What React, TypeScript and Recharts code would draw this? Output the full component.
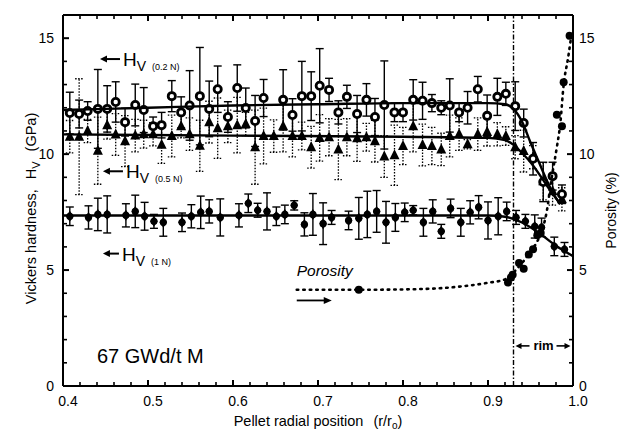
import React from 'react';
import { ComposedChart, Scatter, XAxis, YAxis, ErrorBar, ReferenceLine, ReferenceDot } from 'recharts';

// ---------- data ----------
// Hv (0.2 N) – open circles, solid error bars
const hv02X = [0.408,0.419,0.429,0.441,0.452,0.462,0.473,0.485,0.495,0.506,0.516,0.528,0.539,0.549,0.561,0.572,0.582,0.594,0.605,0.615,0.626,0.636,0.659,0.670,0.681,0.692,0.702,0.713,0.724,0.734,0.746,0.757,0.767,0.778,0.790,0.800,0.812,0.823,0.834,0.845,0.855,0.866,0.876,0.888,0.899,0.911,0.921,0.932,0.942,0.953,0.965,0.976,0.987];
const hv02Y = [11.77,11.73,11.86,11.95,11.95,12.25,11.38,12.12,11.9,11.2,11.25,12.5,11.8,12.1,12.5,11.95,12.8,11.6,12.85,11.99,11.43,12.42,12.34,11.69,12.5,12.5,12.95,12.77,11.8,12.47,11.73,12.34,11.6,12.12,11.8,11.8,12.34,12.3,12.2,12.0,12.1,11.8,12.0,12.8,11.65,12.47,12.6,12.07,11.34,9.8,8.8,9.05,8.27];
const hv02Err = [0.9,0.6,0.4,1.7,1.0,0.87,0.6,0.9,0.97,0.4,0.55,0.67,0.67,1.5,2.1,1.2,1.0,0.66,1.0,0.86,1.1,0.8,1.3,0.7,1.5,1.05,1.6,0.5,0.5,0.5,0.8,0.7,0.8,1.9,0.4,0.4,0.87,0.8,0.37,0.3,1.15,0.4,0.7,0.55,0.9,0.8,0.5,1.05,0.6,0.7,0.85,0.6,0.4];

// Hv (0.5 N) – filled triangles, dotted error bars
const hv05X = [0.408,0.419,0.429,0.441,0.452,0.462,0.473,0.485,0.495,0.506,0.516,0.528,0.539,0.549,0.561,0.572,0.582,0.594,0.605,0.615,0.626,0.636,0.648,0.659,0.670,0.681,0.692,0.702,0.713,0.724,0.734,0.746,0.757,0.767,0.778,0.790,0.800,0.812,0.823,0.834,0.845,0.855,0.866,0.876,0.888,0.899,0.911,0.921,0.932,0.942,0.953,0.965,0.976,0.987];
const hv05Y = [10.75,10.75,11.0,10.15,11.25,10.85,10.56,10.8,10.86,10.86,10.4,10.78,11.2,10.86,10.36,11.38,11.12,11.2,11.25,11.3,10.3,10.78,10.78,11.2,10.78,10.78,10.3,10.7,10.73,10.2,10.73,10.69,10.73,10.56,9.9,9.95,10.35,11.2,10.39,10.35,10.2,10.78,10.86,10.43,10.86,10.95,10.86,10.78,10.3,10.13,9.87,8.83,8.4,8.05];
const hv05Err = [0.7,2.5,0.5,1.45,0.6,0.9,1.1,0.7,0.6,0.5,0.8,0.9,0.5,0.7,1.1,0.9,1.3,0.7,1.2,0.5,1.6,1.2,0.7,1.1,0.9,0.6,0.9,1.0,0.8,1.3,0.8,1.0,0.6,0.9,0.9,1.3,0.8,1.1,0.9,0.8,0.7,0.9,0.7,0.2,0.7,0.6,0.5,0.4,0.5,0.9,0.5,0.8,0.6,0.5];

// Hv (1 N) – filled diamonds, solid error bars
const hv1X = [0.408,0.430,0.441,0.452,0.474,0.485,0.496,0.507,0.518,0.540,0.551,0.562,0.572,0.585,0.607,0.618,0.629,0.640,0.651,0.661,0.672,0.684,0.694,0.706,0.716,0.736,0.748,0.758,0.769,0.780,0.791,0.802,0.812,0.824,0.835,0.845,0.856,0.868,0.879,0.889,0.900,0.912,0.922,0.933,0.944,0.955,0.963,0.978,0.990];
const hv1Y = [7.32,7.27,7.4,7.4,7.36,7.53,7.32,7.1,7.06,7.06,7.32,7.49,7.53,7.27,7.36,7.88,7.58,7.53,7.32,7.4,7.79,6.97,7.4,7.0,7.27,7.14,7.23,7.4,7.53,7.06,7.27,7.49,7.58,7.06,7.53,6.67,7.66,7.06,7.49,7.71,7.14,7.32,7.53,7.27,7.1,6.88,6.84,6.02,5.89];
const hv1Err = [0.4,0.5,0.7,0.8,0.5,0.7,0.6,0.3,0.6,0.4,0.5,0.7,0.5,0.8,0.5,0.4,0.3,0.8,0.4,0.4,0.2,0.5,0.9,0.9,0.3,0.4,0.9,1.0,0.9,0.9,0.6,0.4,0.2,0.6,0.5,0.3,0.4,0.6,0.5,0.5,0.8,0.8,0.4,0.3,0.3,0.5,0.4,0.4,0.3];

// Porosity (%) – filled markers (right axis)
const porX = [0.748,0.9235,0.927,0.929,0.9365,0.942,0.948,0.953,0.958,0.962,0.981,0.987,0.989,0.996];
const porY = [4.15,4.46,4.68,4.8,5.3,5.06,5.67,5.9,6.5,6.6,11.7,11.2,13.1,15.1];

// fitted trend curves
const fit02X = [0.4,0.5,0.6,0.7,0.8,0.9,0.92,0.93,0.94,0.95,0.96,0.97,0.98,0.985];
const fit02Y = [11.9,12.0,12.1,12.15,12.2,12.2,12.15,11.95,11.4,10.5,9.65,8.8,8.1,7.85];
const fit05X = [0.4,0.6,0.8,0.9,0.92,0.93,0.94,0.95,0.96,0.97,0.98,0.985];
const fit05Y = [10.85,10.8,10.75,10.7,10.6,10.4,10.05,9.65,9.15,8.6,8.1,7.85];
const fit1X = [0.4,0.6,0.8,0.9,0.92,0.94,0.96,0.98,1.0];
const fit1Y = [7.35,7.35,7.35,7.35,7.3,7.05,6.6,6.05,5.6];
const fitPorX = [0.675,0.75,0.82,0.87,0.9,0.92,0.93,0.94,0.95,0.96,0.969,0.975,0.981,0.985,0.989,0.994,0.998];
const fitPorY = [4.15,4.15,4.18,4.3,4.45,4.6,4.9,5.3,5.8,6.4,7.5,9.0,10.3,11.3,13.0,14.1,15.1];

const xTicks = [0.4,0.42,0.44,0.46,0.48,0.5,0.52,0.54,0.56,0.58,0.6,0.62,0.64,0.66,0.68,0.7,0.72,0.74,0.76,0.78,0.8,0.82,0.84,0.86,0.88,0.9,0.92,0.94,0.96,0.98,1.0];
const yTicks = [0,1,2,3,4,5,6,7,8,9,10,11,12,13,14,15,16];
const rimX = 0.93;

// ---------- helpers ----------
const pts = (xs: number[], ys: number[], es?: number[]) =>
  xs.map((x, i) => ({ x, y: ys[i], e: es ? es[i] : 0 }));

const d02 = pts(hv02X, hv02Y, hv02Err);
const d05 = pts(hv05X, hv05Y, hv05Err);
const d1 = pts(hv1X, hv1Y, hv1Err);
const dPor = pts(porX, porY);
const f02 = pts(fit02X, fit02Y);
const f05 = pts(fit05X, fit05Y);
const f1 = pts(fit1X, fit1Y);
const fPor = pts(fitPorX, fitPorY);

const FONT = '"Liberation Sans", Arial, sans-serif';
const isMajorX = (v: number) => Math.abs(v * 10 - Math.round(v * 10)) < 1e-6;
const isMajorY = (v: number) => Math.round(v) % 5 === 0;

const BottomTick = (p: any) => {
  const v = p.payload.value;
  const m = isMajorX(v);
  return (
    <g>
      <line x1={p.x} x2={p.x} y1={p.y} y2={p.y - (m ? 6 : 4)} stroke="#000" strokeWidth={m ? 2 : 1.6} />
      {m && (
        <text x={p.x + 5} y={p.y + 20} textAnchor="middle" fontSize={14} fontFamily={FONT} fill="#000">
          {v.toFixed(1)}
        </text>
      )}
    </g>
  );
};
const TopTick = (p: any) => {
  const v = p.payload.value;
  const m = isMajorX(v);
  return <line x1={p.x} x2={p.x} y1={p.y} y2={p.y + (m ? 6 : 4)} stroke="#000" strokeWidth={m ? 2 : 1.6} />;
};
const LeftTick = (p: any) => {
  const v = p.payload.value;
  const m = isMajorY(v);
  return (
    <g>
      <line x1={p.x} x2={p.x + (m ? 6 : 4)} y1={p.y} y2={p.y} stroke="#000" strokeWidth={m ? 2 : 1.6} />
      {m && (
        <text x={p.x - 9} y={p.y + 5} textAnchor="end" fontSize={14} fontFamily={FONT} fill="#000">
          {v}
        </text>
      )}
    </g>
  );
};
const RightTick = (p: any) => {
  const v = p.payload.value;
  const m = isMajorY(v);
  return (
    <g>
      <line x1={p.x} x2={p.x - (m ? 6 : 4)} y1={p.y} y2={p.y} stroke="#000" strokeWidth={m ? 2 : 1.6} />
      {m && (
        <text x={p.x + 6} y={p.y + 5} textAnchor="start" fontSize={14} fontFamily={FONT} fill="#000">
          {v}
        </text>
      )}
    </g>
  );
};

// markers
const OpenCircle = (p: any) => (
  <circle cx={p.cx} cy={p.cy} r={3.6} fill="#fff" stroke="#000" strokeWidth={2.8} />
);
const Triangle = (p: any) => (
  <path d={`M${p.cx},${p.cy - 6}L${p.cx + 5},${p.cy + 4}L${p.cx - 5},${p.cy + 4}Z`} fill="#000" />
);
const Diamond = (p: any) => (
  <g>
    <circle cx={p.cx} cy={p.cy} r={3.6} fill="#000" />
    <path d={`M${p.cx},${p.cy - 5.5}L${p.cx + 3.8},${p.cy}L${p.cx},${p.cy + 5.5}L${p.cx - 3.8},${p.cy}Z`} fill="#000" />
  </g>
);
const Blob = (p: any) => <circle cx={p.cx} cy={p.cy} r={4} fill="#000" />;
const NoShape = () => <g />;

// annotations
const HvLabel = (props: any) => {
  const vb = props.viewBox || {};
  const x = vb.x, y = vb.y;
  const small = props.small;
  const len = small ? 16 : 20;
  return (
    <g fontFamily={FONT} fill="#000">
      <line x1={x + 4} x2={x + len} y1={y} y2={y} stroke="#000" strokeWidth={2} />
      <path d={`M${x},${y}L${x + 7},${y - 3.5}L${x + 7},${y + 3.5}Z`} fill="#000" />
      <text x={x + len + 3} y={y + 7} fontSize={19}>
        H
        <tspan dy={5} fontSize={14}>V</tspan>
        <tspan dx={6} dy={-1} fontSize={9}>{props.load}</tspan>
      </text>
    </g>
  );
};
const PorosityLabel = (props: any) => {
  const vb = props.viewBox || {};
  const x = vb.x, y = vb.y;
  return (
    <g fontFamily={FONT} fill="#000">
      <text x={x} y={y + 5} fontSize={15.5} fontStyle="italic">Porosity</text>
      <line x1={x} x2={x + 28} y1={y + 29} y2={y + 29} stroke="#000" strokeWidth={1.8} />
      <path d={`M${x + 35},${y + 29}L${x + 27},${y + 25.5}L${x + 27},${y + 32.5}Z`} fill="#000" />
    </g>
  );
};
const BurnupLabel = (props: any) => {
  const vb = props.viewBox || {};
  return (
    <text x={vb.x} y={vb.y} fontSize={20} fontFamily={FONT} fill="#000">67 GWd/t M</text>
  );
};
const RimLabel = (props: any) => {
  const vb = props.viewBox || {};
  const x = vb.x, y = vb.y;
  return (
    <g fontFamily={FONT} fill="#000">
      <line x1={x - 24} x2={x - 14} y1={y} y2={y} stroke="#000" strokeWidth={1.6} />
      <path d={`M${x - 28},${y}L${x - 22},${y - 3}L${x - 22},${y + 3}Z`} fill="#000" />
      <text x={x} y={y + 4} fontSize={13} fontWeight="bold" textAnchor="middle">rim</text>
      <line x1={x + 13} x2={x + 23} y1={y} y2={y} stroke="#000" strokeWidth={1.6} />
      <path d={`M${x + 27},${y}L${x + 21},${y - 3}L${x + 21},${y + 3}Z`} fill="#000" />
    </g>
  );
};
const LeftTitle = (props: any) => {
  const vb = props.viewBox || {};
  const cx = 36;
  const cy = vb.y + vb.height / 2 + 8;
  return (
    <text x={cx} y={cy} transform={`rotate(-90, ${cx}, ${cy})`} textAnchor="middle" fontSize={14.5} fontFamily={FONT} fill="#000">
      Vickers hardness,
      <tspan dx={10}>H</tspan>
      <tspan dy={4} fontSize={11}>V</tspan>
      <tspan dx={10} dy={-4}>(GPa)</tspan>
    </text>
  );
};
const RightTitle = (props: any) => {
  const vb = props.viewBox || {};
  const cx = vb.x + 43;
  const cy = vb.y + vb.height / 2 + 10;
  return (
    <text x={cx} y={cy} transform={`rotate(-90, ${cx}, ${cy})`} textAnchor="middle" fontSize={14} fontFamily={FONT} fill="#000">
      Porosity (%)
    </text>
  );
};
const BottomTitle = (props: any) => {
  const vb = props.viewBox || {};
  const cx = vb.x + vb.width / 2;
  return (
    <text x={cx} y={vb.y + 40} textAnchor="middle" fontSize={14.5} fontFamily={FONT} fill="#000">
      Pellet radial position
      <tspan dx={10}>(r/r</tspan>
      <tspan dy={3} fontSize={10}>o</tspan>
      <tspan dy={-3}>)</tspan>
    </text>
  );
};

const axisLine = { stroke: '#000', strokeWidth: 2 };

export default function App() {
  return (
    <div style={{ position: 'absolute', left: 0, top: 0, width: 624, height: 438, background: '#fff' }}>
      <ComposedChart width={624} height={438} margin={{ top: 0, right: 0, bottom: 0, left: 0 }}>
        <XAxis xAxisId="bottom" dataKey="x" type="number" domain={[0.4, 1.0]} ticks={xTicks} interval={0}
          allowDataOverflow height={52} tickSize={0} tickMargin={0} tickLine={false} axisLine={axisLine}
          tick={<BottomTick />} label={<BottomTitle />} />
        <XAxis xAxisId="top" orientation="top" dataKey="x" type="number" domain={[0.4, 1.0]} ticks={xTicks} interval={0}
          allowDataOverflow height={15} tickSize={0} tickMargin={0} tickLine={false} axisLine={axisLine}
          tick={<TopTick />} />
        <YAxis yAxisId="left" dataKey="y" type="number" domain={[0, 16]} ticks={yTicks} interval={0}
          allowDataOverflow width={63} tickSize={0} tickMargin={0} tickLine={false} axisLine={axisLine}
          tick={<LeftTick />} label={<LeftTitle />} />
        <YAxis yAxisId="right" orientation="right" dataKey="y" type="number" domain={[0, 16]} ticks={yTicks} interval={0}
          allowDataOverflow width={51} tickSize={0} tickMargin={0} tickLine={false} axisLine={axisLine}
          tick={<RightTick />} label={<RightTitle />} />

        <ReferenceLine xAxisId="bottom" yAxisId="left" x={rimX} stroke="#000" strokeWidth={1.4} strokeDasharray="5 2 1.5 2" />

        <Scatter xAxisId="bottom" yAxisId="left" data={d05} shape={<Triangle />} isAnimationActive={false}>
          <ErrorBar dataKey="e" direction="y" width={4} stroke="#000" strokeWidth={1.3} strokeDasharray="1.5 1.5" />
        </Scatter>
        <Scatter xAxisId="bottom" yAxisId="left" data={d02} shape={<OpenCircle />} isAnimationActive={false}>
          <ErrorBar dataKey="e" direction="y" width={4} stroke="#000" strokeWidth={1.4} />
        </Scatter>
        <Scatter xAxisId="bottom" yAxisId="left" data={d1} shape={<Diamond />} isAnimationActive={false}>
          <ErrorBar dataKey="e" direction="y" width={4} stroke="#000" strokeWidth={1.4} />
        </Scatter>

        <Scatter xAxisId="bottom" yAxisId="left" data={f02} shape={<NoShape />} line={{ stroke: '#000', strokeWidth: 2.4 }} lineJointType="monotoneX" isAnimationActive={false} />
        <Scatter xAxisId="bottom" yAxisId="left" data={f05} shape={<NoShape />} line={{ stroke: '#000', strokeWidth: 2.4 }} lineJointType="monotoneX" isAnimationActive={false} />
        <Scatter xAxisId="bottom" yAxisId="left" data={f1} shape={<NoShape />} line={{ stroke: '#000', strokeWidth: 2.4 }} lineJointType="monotoneX" isAnimationActive={false} />

        <Scatter xAxisId="bottom" yAxisId="right" data={fPor} shape={<NoShape />} line={{ stroke: '#000', strokeWidth: 2.6, strokeDasharray: '1.5 5', strokeLinecap: 'round' }} lineJointType="monotoneX" isAnimationActive={false} />
        <Scatter xAxisId="bottom" yAxisId="right" data={dPor} shape={<Blob />} isAnimationActive={false} />

        <ReferenceDot xAxisId="bottom" yAxisId="left" x={0.4435} y={14.1} r={0} label={<HvLabel load="(0.2 N)" />} />
        <ReferenceDot xAxisId="bottom" yAxisId="left" x={0.447} y={9.26} r={0} label={<HvLabel load="(0.5 N)" />} />
        <ReferenceDot xAxisId="bottom" yAxisId="left" x={0.447} y={5.71} r={0} label={<HvLabel load="(1 N)" small />} />
        <ReferenceDot xAxisId="bottom" yAxisId="left" x={0.675} y={4.94} r={0} label={<PorosityLabel />} />
        <ReferenceDot xAxisId="bottom" yAxisId="left" x={0.44} y={1.0} r={0} label={<BurnupLabel />} />
        <ReferenceDot xAxisId="bottom" yAxisId="left" x={0.9653} y={1.73} r={0} label={<RimLabel />} />
      </ComposedChart>
    </div>
  );
}
